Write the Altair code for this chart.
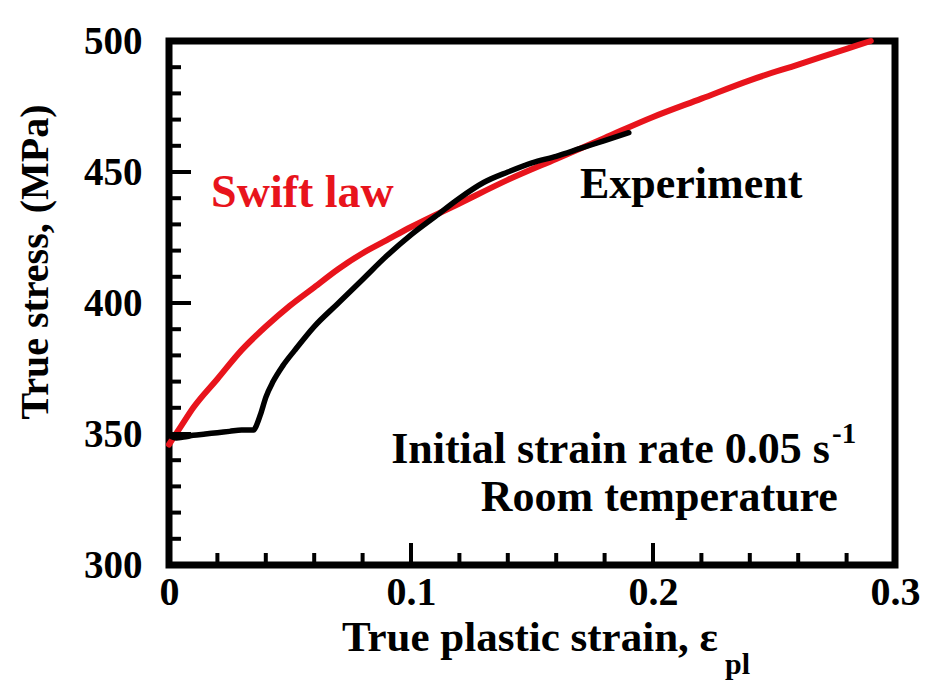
import altair as alt
import pandas as pd

# ---- data ----
swift_strain = [0.000, 0.005, 0.010, 0.020, 0.030, 0.040, 0.050, 0.060, 0.070, 0.080,
                0.090, 0.100, 0.120, 0.140, 0.160, 0.180, 0.200, 0.220, 0.240, 0.260,
                0.280, 0.290]
swift_stress = [346, 353, 360, 371, 382, 391, 399, 406, 413, 419,
                424, 429, 438, 447, 455, 463, 471, 478, 485, 491,
                497, 500]

exp_strain = [0.000, 0.003, 0.006, 0.010, 0.015, 0.020, 0.025, 0.030, 0.035, 0.036,
              0.038, 0.040, 0.043, 0.047, 0.052, 0.060, 0.070, 0.080, 0.090, 0.100,
              0.110, 0.120, 0.130, 0.140, 0.150, 0.160, 0.170, 0.180, 0.190]
exp_stress = [349.5, 348.5, 348.8, 349.5, 350.0, 350.5, 351.0, 351.5, 351.5, 353.0,
              358.0, 364.0, 370.0, 376.0, 382.0, 391.0, 400.0, 409.0, 418.0, 426.0,
              433.0, 440.0, 446.0, 450.0, 453.5, 456.0, 459.0, 462.0, 465.0]

x_label_values = [0, 0.1, 0.2, 0.3]
y_label_values = [300, 350, 400, 450, 500]
x_major_ticks = [0.1, 0.2]
x_minor_ticks = [0.02, 0.04, 0.06, 0.08, 0.12, 0.14, 0.16, 0.18, 0.22, 0.24, 0.26, 0.28]
y_major_ticks = [350, 400, 450]
y_minor_ticks = [310, 320, 330, 340, 360, 370, 380, 390, 410, 420, 430, 440,
                 460, 470, 480, 490]

x_title = "True plastic strain, ε"
x_title_sub = "pl"
y_title = "True stress, (MPa)"
swift_label = "Swift law"
exp_label = "Experiment"
rate_label = "Initial strain rate 0.05 s"
rate_sup = "-1"
temp_label = "Room temperature"

# ---- layout / style ----
W, H = 726, 524
FONT = "Liberation Serif"
RED = "#e8141c"
BLACK = "#000000"

xs = alt.Scale(domain=[0, 0.3], nice=False, zero=False)
ys = alt.Scale(domain=[300, 500], nice=False, zero=False)

xaxis = alt.Axis(values=x_label_values, format="~g", labelFont=FONT, labelFontSize=40,
                 labelFontWeight="bold", labelColor=BLACK, labelPadding=7,
                 ticks=False, tickSize=0, domain=False, grid=False, labelFlush=False,
                 labelOverlap=False, labelBound=False, title=None)
yaxis = alt.Axis(values=y_label_values, labelFont=FONT, labelFontSize=39,
                 labelFontWeight="bold", labelColor=BLACK, labelPadding=27,
                 ticks=False, tickSize=0, domain=False, grid=False, labelFlush=False,
                 labelOverlap=False, labelBound=False, labelBaseline="middle", title=None)

X = lambda f: alt.X(f, scale=xs, axis=xaxis)
Y = lambda f: alt.Y(f, scale=ys, axis=yaxis)

swift_df = pd.DataFrame({"strain": swift_strain, "stress": swift_stress})
exp_df = pd.DataFrame({"strain": exp_strain, "stress": exp_stress})

red_line = alt.Chart(swift_df).mark_line(
    color=RED, strokeWidth=6, strokeCap="round", interpolate="monotone").encode(
    x=X("strain:Q"), y=Y("stress:Q"))
black_line = alt.Chart(exp_df).mark_line(
    color=BLACK, strokeWidth=5.5, strokeCap="round", interpolate="monotone").encode(
    x=X("strain:Q"), y=Y("stress:Q"))

def xticks(vals, length):
    return alt.Chart(pd.DataFrame({"v": vals})).mark_rule(color=BLACK, strokeWidth=4).encode(
        x=X("v:Q"), y=alt.value(H), y2=alt.value(H - length))

def yticks(vals, length):
    return alt.Chart(pd.DataFrame({"v": vals})).mark_rule(color=BLACK, strokeWidth=4).encode(
        y=Y("v:Q"), x=alt.value(0), x2=alt.value(length))

# annotations placed in data coordinates
ann = pd.DataFrame({
    "text": [swift_label, exp_label, rate_label, rate_sup, temp_label],
    "x": [0.0174, 0.1698, 0.2731, 0.2740, 0.2764],
    "y": [436.5, 440.1, 338.9, 346.6, 320.6],
})

def ann_text(i, size, color, align):
    return alt.Chart(ann.iloc[[i]]).mark_text(
        font=FONT, fontSize=size, fontWeight="bold", color=color, align=align,
        baseline="alphabetic").encode(x=X("x:Q"), y=Y("y:Q"), text="text:N")

xt = alt.Chart(pd.DataFrame({"text": [x_title]})).mark_text(
    font=FONT, fontSize=43, fontWeight="bold", color=BLACK, align="center",
    baseline="alphabetic").encode(x=alt.value(361), y=alt.value(610), text="text:N")
xt_sub = alt.Chart(pd.DataFrame({"text": [x_title_sub]})).mark_text(
    font=FONT, fontSize=30, fontWeight="bold", color=BLACK, align="left",
    baseline="alphabetic").encode(x=alt.value(556), y=alt.value(633), text="text:N")
yt = alt.Chart(pd.DataFrame({"text": [y_title]})).mark_text(
    font=FONT, fontSize=40, fontWeight="bold", color=BLACK, align="center",
    baseline="middle", angle=270).encode(x=alt.value(-133), y=alt.value(221), text="text:N")

chart = alt.layer(
    red_line, black_line,
    xticks(x_minor_ticks, 12), xticks(x_major_ticks, 22),
    yticks(y_minor_ticks, 12), yticks(y_major_ticks, 22),
    ann_text(0, 46, RED, "left"), ann_text(1, 44, BLACK, "left"),
    ann_text(2, 44, BLACK, "right"), ann_text(3, 29, BLACK, "left"),
    ann_text(4, 44, BLACK, "right"),
    xt, xt_sub, yt,
).properties(
    width=W, height=H,
    autosize=alt.AutoSizeParams(type="none"),
    padding={"left": 161, "top": 33, "right": 27, "bottom": 117},
    background="white",
).configure_view(stroke=BLACK, strokeWidth=7)

chart.save("out.html", embed_options={"renderer": "svg", "actions": False})
